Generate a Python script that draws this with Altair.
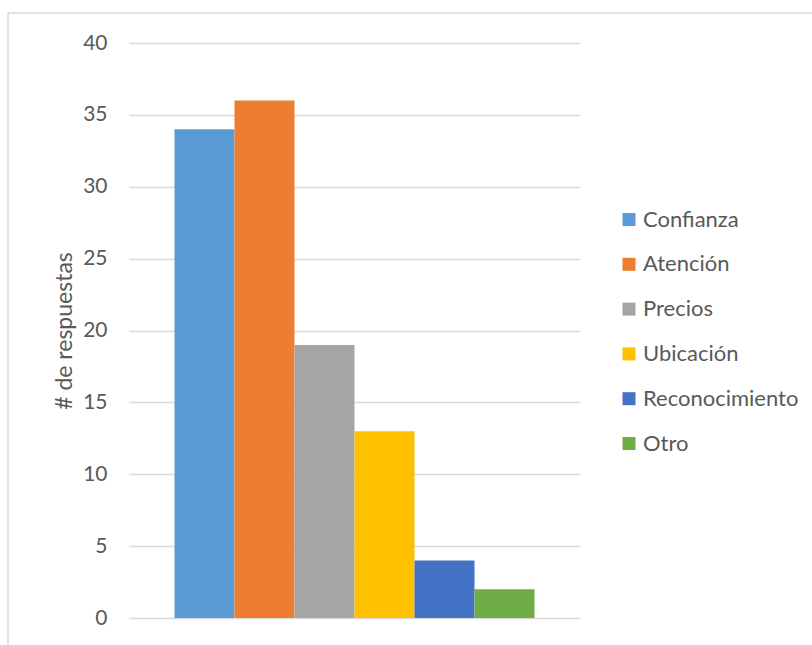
import altair as alt
import pandas as pd

series = ["Confianza", "Atención", "Precios", "Ubicación", "Reconocimiento", "Otro"]
values = [34, 36, 19, 13, 4, 2]
colors = ["#5B9BD5", "#ED7D31", "#A5A5A5", "#FFC000", "#4472C4", "#70AD47"]
y_ticks = [0, 5, 10, 15, 20, 25, 30, 35, 40]

df = pd.DataFrame({"Serie": series, "Respuestas": values})

FONT = "Lato"
TXT = "#595959"
GRID = "#D9D9D9"

bars = alt.Chart(df).mark_bar().encode(
    x=alt.X("Serie:N", sort=series,
            scale=alt.Scale(paddingInner=0, paddingOuter=0.758),
            axis=None),
    y=alt.Y("Respuestas:Q",
            scale=alt.Scale(domain=[0, 40], nice=False),
            axis=alt.Axis(values=y_ticks, title="# de respuestas",
                          grid=True, gridColor=GRID, gridWidth=1.5,
                          domain=False, ticks=False, labelPadding=22,
                          labelFont=FONT, labelFontSize=21, labelColor=TXT,
                          titleFont=FONT, titleFontSize=23, titleColor=TXT,
                          titleFontWeight="normal", titleAngle=270,
                          titleBaseline="alphabetic", titleX=-58, titleY=287.5)),
    color=alt.Color("Serie:N", sort=series,
                    scale=alt.Scale(domain=series, range=colors),
                    legend=alt.Legend(title=None, orient="none",
                                      legendX=489, legendY=165.5,
                                      padding=0, symbolType="square",
                                      symbolSize=169, symbolStrokeWidth=0,
                                      labelFont=FONT, labelFontSize=22,
                                      labelColor=TXT, labelOffset=3,
                                      rowPadding=22.8)),
)

border_data = alt.Data(values=[{"k": 1}])
top_border = alt.Chart(border_data).mark_rule(color=GRID, strokeWidth=1.5).encode(
    x=alt.value(-121), x2=alt.value(700), y=alt.value(-30))
left_border = alt.Chart(border_data).mark_rule(color=GRID, strokeWidth=1.5).encode(
    x=alt.value(-121), y=alt.value(-30), y2=alt.value(700))

chart = alt.layer(top_border, left_border, bars).properties(
    width=451, height=575,
    autosize=alt.AutoSizeParams(type="none"),
    padding={"left": 129, "top": 43, "right": 232, "bottom": 27},
    background="white",
).configure_view(strokeWidth=0)

chart.save("out.html", embed_options={"renderer": "svg", "actions": False})
